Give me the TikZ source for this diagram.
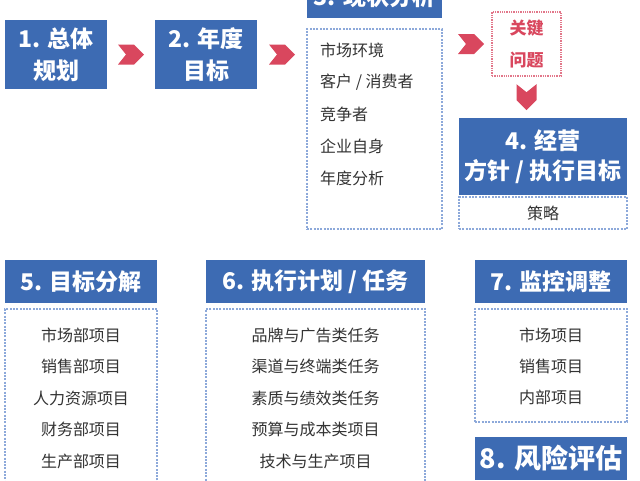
\documentclass[tikz,border=0pt]{standalone}
\usepackage{fontspec}
\setmainfont{Noto Sans CJK SC}
\usetikzlibrary{calc}
\definecolor{hdblue}{HTML}{3D6BB3}
\definecolor{arrred}{HTML}{D9475E}
\definecolor{dashblue}{HTML}{8DA9DA}
\definecolor{dotred}{HTML}{E2778A}
\definecolor{itemgray}{HTML}{333333}

\begin{document}
\begin{tikzpicture}
  [x=1pt,y=-1pt,
   head/.style={fill=hdblue,text=white,align=center,inner sep=0pt,
     font=\fontsize{23}{32}\selectfont\bfseries},
   listbox/.style={draw=dashblue,line width=1.3pt,dash pattern=on 2pt off 1.3pt,inner sep=0pt},
   item/.style={text=itemgray,inner sep=0pt,font=\fontsize{16}{16}\selectfont},
   pics/chev/.style={code={
     \fill[arrred] (-13,-10) -- (3,-10) -- (13,0) -- (3,10) -- (-13,10) -- (-5,0) -- cycle;}}]
  \useasboundingbox[fill=white] (0,0) rectangle (640,480);

  % first row
  \node[head,minimum width=102pt,minimum height=69pt] (plan) at (56,54.5) {1. 总体\\规划};
  \node[head,minimum width=102pt,minimum height=69pt] (goal) at (206,54.5) {2. 年度\\目标};
  \node[head,minimum width=135pt,minimum height=43pt] (statehd) at (374.5,-3.5) {3. 现状分析};
  \node[listbox,minimum width=135pt,minimum height=200pt] (statels) at (374.5,129) {};
  \foreach \txt [count=\i] in {市场环境,客户 / 消费者,竞争者,企业自身,年度分析}
    \node[item,anchor=west] (st\i) at (320,{18+32*\i}) {\txt};
  \node[draw=dotred,densely dotted,line width=1.3pt,minimum width=69pt,minimum height=64pt,
        inner sep=0pt,align=center,text=arrred,font=\fontsize{17}{32}\selectfont\bfseries]
        (key) at (526.5,44) {关键\\问题};
  \node[head,minimum width=168pt,minimum height=77pt,font=\fontsize{23}{30}\selectfont\bfseries]
        (policy) at (543,156.5) {4. 经营\\方针 / 执行目标};
  \node[listbox,minimum width=168pt,minimum height=32pt,text=itemgray,
        font=\fontsize{16}{16}\selectfont] (tactic) at (543,213) {策略};

  \pic at ($(plan.east)!0.5!(goal.west)$) {chev};
  \pic at ($(goal.east)!0.5!(statehd.west |- goal.west)$) {chev};
  \pic[xshift=4pt] at ($(statels.east |- key.west)!0.5!(key.west)$) {chev};
  \pic[rotate=-90] at ($(key.south)!0.5!(key.south |- policy.north)$) {chev};

  % second row
  \node[head,minimum width=152pt,minimum height=43pt] (splithd) at (81,281.5) {5. 目标分解};
  \node[listbox,minimum width=152pt,minimum height=191pt] (splitls) at (81,404.5) {};
  \foreach \txt [count=\i] in {市场部项目,销售部项目,人力资源项目,财务部项目,生产部项目}
    \node[item] (sp\i) at (81,{303.5+31.5*\i}) {\txt};

  \node[head,minimum width=219pt,minimum height=43pt] (taskhd) at (315.5,281.5) {6. 执行计划 / 任务};
  \node[listbox,minimum width=219pt,minimum height=191pt] (taskls) at (315.5,404.5) {};
  \foreach \txt [count=\i] in {品牌与广告类任务,渠道与终端类任务,素质与绩效类任务,预算与成本类项目,技术与生产项目}
    \node[item] (tk\i) at (315.5,{303.5+31.5*\i}) {\txt};

  \node[head,minimum width=152pt,minimum height=43pt] (monhd) at (551,281.5) {7. 监控调整};
  \node[listbox,minimum width=152pt,minimum height=113pt] (monls) at (551,365.5) {};
  \foreach \txt [count=\i] in {市场项目,销售项目,内部项目}
    \node[item] (mn\i) at (551,{304+31*\i}) {\txt};

  \node[head,minimum width=152pt,minimum height=43pt,font=\fontsize{27}{32}\selectfont\bfseries]
        (riskhd) at (551,458.5) {8. 风险评估};
\end{tikzpicture}
\end{document}
